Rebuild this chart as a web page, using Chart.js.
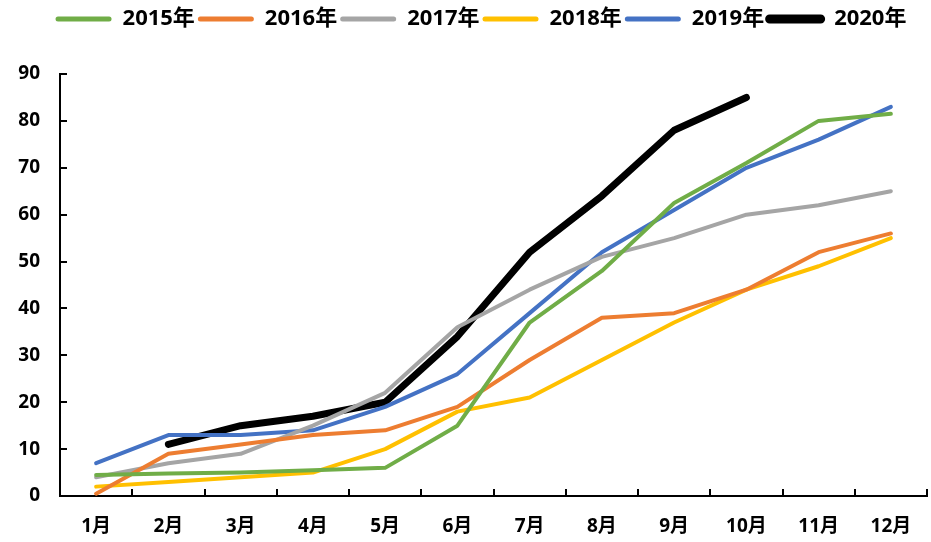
<!DOCTYPE html>
<html lang="zh">
<head>
  <meta charset="UTF-8">
  <title>2015-2020年 月度累计</title>
  <script src="https://cdn.jsdelivr.net/npm/chart.js"></script>
  <style>
    body { margin: 0; background: #fff; }
    #box { width: 931px; height: 542px; }
  </style>
</head>
<body>
  <div id="box"><canvas id="grafica"></canvas></div>

  <script>
    // categorias y series
    const meses = ['1月', '2月', '3月', '4月', '5月', '6月', '7月', '8月', '9月', '10月', '11月', '12月'];
    const y2015 = [4.5, 4.8, 5, 5.5, 6, 15, 37, 48, 62.5, 71, 80, 81.5];
    const y2016 = [0.5, 9, 11, 13, 14, 19, 29, 38, 39, 44, 52, 56];
    const y2017 = [4, 7, 9, 15, 22, 36, 44, 51, 55, 60, 62, 65];
    const y2018 = [2, 3, 4, 5, 10, 18, 21, 29, 37, 44, 49, 55];
    const y2019 = [7, 13, 13, 14, 19, 26, 39, 52, 61, 70, 76, 83];
    const y2020 = [null, 11, 15, 17, 20, 34, 52, 64, 78, 85, null, null];

    const fuenteEje = { family: "'Open Sans', 'Noto Sans CJK SC', sans-serif", size: 19, weight: 'bold' };
    const fuenteLeyenda = { family: "'Open Sans', 'Noto Sans CJK SC', sans-serif", size: 22, weight: 'bold' };

    function serie(label, data, color, ancho) {
      return {
        label: label,
        data: data,
        borderColor: color,
        backgroundColor: color,
        borderWidth: ancho,
        pointRadius: 0,
        borderCapStyle: 'round',
        borderJoinStyle: 'round',
        tension: 0,
        spanGaps: false
      };
    }

    // alto fijo de la leyenda y un pequeño corrimiento a la derecha
    const ajusteLeyenda = {
      id: 'ajusteLeyenda',
      beforeInit(chart) {
        const fitOrig = chart.legend.fit;
        chart.legend.fit = function () { fitOrig.call(this); this.height = 69; };
      },
      afterLayout(chart) {
        chart.legend.left += 10;
        chart.legend.right += 10;
      }
    };

    new Chart(document.getElementById('grafica'), {
      type: 'line',
      data: {
        labels: meses,
        datasets: [
          serie('2015年', y2015, '#70AD47', 4),
          serie('2016年', y2016, '#ED7D31', 4),
          serie('2017年', y2017, '#A5A5A5', 4),
          serie('2018年', y2018, '#FFC000', 4),
          serie('2019年', y2019, '#4472C4', 4),
          serie('2020年', y2020, '#000000', 7)
        ]
      },
      plugins: [ajusteLeyenda],
      options: {
        responsive: true,
        maintainAspectRatio: false,
        animation: false,
        layout: { padding: { left: 15, right: 4, top: 5, bottom: 0 } },
        plugins: {
          tooltip: { enabled: false },
          legend: {
            position: 'top',
            align: 'center',
            labels: {
              font: fuenteLeyenda,
              color: '#000',
              boxWidth: 56,
              boxHeight: 5,
              padding: 3,
              useBorderRadius: true,
              borderRadius: 2.5,
              generateLabels: chart => {
                const items = Chart.defaults.plugins.legend.labels.generateLabels(chart);
                return items.map(it => {
                  const ds = chart.data.datasets[it.datasetIndex];
                  it.fillStyle = ds.borderColor;
                  it.strokeStyle = ds.borderColor;
                  it.lineWidth = ds.borderWidth > 5 ? 4 : 0;
                  return it;
                });
              }
            }
          }
        },
        scales: {
          x: {
            offset: true,
            afterFit: s => { s.height = 46; s.paddingRight = 0; s.paddingLeft = 0; },
            grid: { display: true, drawOnChartArea: false, drawTicks: true, tickLength: -7, offset: true, color: '#000', lineWidth: 2 },
            border: { display: true, color: '#000', width: 2 },
            ticks: { font: fuenteEje, color: '#000', padding: 26, maxRotation: 0, autoSkip: false }
          },
          y: {
            min: 0,
            max: 90,
            afterFit: s => { s.width = 45; },
            grid: { display: true, drawOnChartArea: false, drawTicks: true, tickLength: -7, color: '#000', lineWidth: 2 },
            border: { display: true, color: '#000', width: 2 },
            ticks: { stepSize: 10, font: fuenteEje, color: '#000', padding: 27 }
          }
        }
      }
    });
  </script>
</body>
</html>
